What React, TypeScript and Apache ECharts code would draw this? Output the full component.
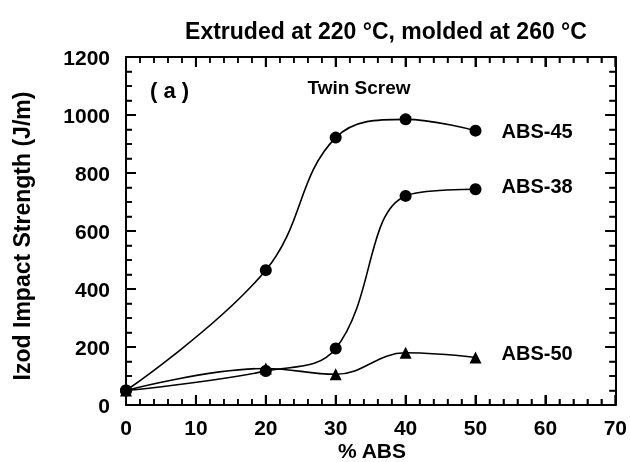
import React, { useEffect, useRef } from "react";
import * as echarts from "echarts";

const xValues = [0, 20, 30, 40, 50];
const abs45 = [50, 465, 922, 985, 946];
const abs38 = [50, 117, 195, 721, 744];
const abs50 = [50, 126, 106, 180, 164];
const seriesNames = ["ABS-45", "ABS-38", "ABS-50"];
const titleText = "Extruded at 220 °C, molded at 260 °C";
const yName = "Izod Impact Strength (J/m)";
const xName = "% ABS";

const X_MIN = 0, X_MAX = 70, X_MAJOR = 10, X_MINOR = 2;
const Y_MIN = 0, Y_MAX = 1200, Y_MAJOR = 200, Y_MINOR = 50;

const FONT = "'Liberation Sans', Arial, Helvetica, sans-serif";
const INK = "#000000";

function tickList(min: number, max: number, minor: number, major: number) {
  const out: number[][] = [];
  for (let v = min; v <= max + 1e-9; v += minor) {
    out.push([v, Math.abs(v / major - Math.round(v / major)) < 1e-9 ? 1 : 0]);
  }
  return out;
}

function buildData(values: number[], name: string, offsetY: number) {
  return values.map((v, i) => {
    const item: any = { value: [xValues[i], v] };
    if (i === values.length - 1) {
      item.label = {
        show: true,
        position: "right",
        distance: 20,
        offset: [0, offsetY],
        formatter: name,
        color: INK,
        fontFamily: FONT,
        fontWeight: "bold",
        fontSize: 20,
      };
    }
    return item;
  });
}

export default function App() {
  const ref = useRef<HTMLDivElement>(null);
  useEffect(() => {
    if (!ref.current) return;
    const chart = echarts.init(ref.current, undefined, { renderer: "svg" });
    const line = { show: true, onZero: false, lineStyle: { color: INK, width: 2 } };
    const tick = { show: true, inside: true, length: 10, lineStyle: { color: INK, width: 2 } };
    const split = { show: true, lineStyle: { color: "rgba(0,0,0,0)", width: 0 } };
    const labelStyle = {
      color: INK,
      fontFamily: FONT,
      fontWeight: "bold" as const,
      fontSize: 21,
      formatter: (v: number) => String(v),
    };
    const lineSeries = (name: string, data: any[], symbol: string) => ({
      type: "line",
      name,
      data,
      smooth: 0.4,
      symbol,
      symbolSize: 12,
      lineStyle: { color: INK, width: 1.6 },
      itemStyle: { color: INK },
      label: { show: false },
      z: 3,
    });
    const xTicks = tickList(X_MIN, X_MAX, X_MINOR, X_MAJOR).map((t) => [t[0], Y_MIN, t[1]]);
    const yTicks = tickList(Y_MIN, Y_MAX, Y_MINOR, Y_MAJOR).map((t) => [X_MIN, t[0], t[1]]);
    const tickStyle = (major: boolean) => ({ stroke: INK, lineWidth: major ? 2 : 1.5 });
    const xAxisBase = {
      type: "value",
      min: X_MIN,
      max: X_MAX,
      interval: X_MAJOR,
      axisLine: line,
      splitLine: split,
      axisTick: tick,
      minorTick: { show: true, splitNumber: 5, length: 6, lineStyle: { color: INK, width: 1.5 } },
    };
    const yAxisBase = {
      type: "value",
      min: Y_MIN,
      max: Y_MAX,
      interval: Y_MAJOR,
      axisLine: line,
      splitLine: split,
      axisTick: tick,
      minorTick: { show: true, splitNumber: 4, length: 6, lineStyle: { color: INK, width: 1.5 } },
    };
    chart.setOption({
      animation: false,
      title: {
        text: titleText,
        left: 381,
        top: 14,
        textAlign: "center",
        textStyle: { color: INK, fontFamily: FONT, fontWeight: "bold", fontSize: 23 },
      },
      grid: { left: 126, right: 14, top: 57, bottom: 57 },
      xAxis: [
        { ...xAxisBase, position: "bottom", axisLabel: { ...labelStyle, margin: 12 } },
        { ...xAxisBase, position: "top", axisLabel: { show: false } },
      ],
      yAxis: [
        { ...yAxisBase, position: "left", axisLabel: { ...labelStyle, margin: 16 } },
        { ...yAxisBase, position: "right", axisLabel: { show: false } },
      ],
      graphic: [
        {
          type: "text",
          x: 22,
          y: 236,
          rotation: Math.PI / 2,
          style: {
            text: yName,
            fill: INK,
            font: `bold 23px ${FONT}`,
            align: "center",
            verticalAlign: "middle",
          },
        },
        {
          type: "text",
          x: 372,
          y: 450,
          style: {
            text: xName,
            fill: INK,
            font: `bold 21px ${FONT}`,
            align: "center",
            verticalAlign: "middle",
          },
        },
        {
          type: "text",
          x: 150,
          y: 90,
          style: {
            text: "( a )",
            fill: INK,
            font: `bold 22px ${FONT}`,
            align: "left",
            verticalAlign: "middle",
          },
        },
        {
          type: "text",
          x: 359,
          y: 87,
          style: {
            text: "Twin Screw",
            fill: INK,
            font: `bold 19px ${FONT}`,
            align: "center",
            verticalAlign: "middle",
          },
        },
      ],
      series: [
        {
          type: "custom",
          clip: false,
          data: xTicks,
          renderItem: (params: any, api: any) => {
            const x = api.coord([api.value(0), Y_MIN])[0];
            const top = api.coord([X_MIN, Y_MAX])[1];
            const bottom = api.coord([X_MIN, Y_MIN])[1];
            const major = api.value(2) === 1;
            const len = major ? 10 : 6;
            return {
              type: "group",
              children: [
                { type: "line", shape: { x1: x, y1: bottom, x2: x, y2: bottom - len }, style: tickStyle(major) },
                { type: "line", shape: { x1: x, y1: top, x2: x, y2: top + len }, style: tickStyle(major) },
              ],
            };
          },
        },
        {
          type: "custom",
          clip: false,
          data: yTicks,
          renderItem: (params: any, api: any) => {
            const y = api.coord([X_MIN, api.value(1)])[1];
            const left = api.coord([X_MIN, Y_MIN])[0];
            const right = api.coord([X_MAX, Y_MIN])[0];
            const major = api.value(2) === 1;
            const len = major ? 10 : 6;
            return {
              type: "group",
              children: [
                { type: "line", shape: { x1: left, y1: y, x2: left + len, y2: y }, style: tickStyle(major) },
                { type: "line", shape: { x1: right, y1: y, x2: right - len, y2: y }, style: tickStyle(major) },
              ],
            };
          },
        },
        lineSeries(seriesNames[0], buildData(abs45, seriesNames[0], 0), "circle"),
        lineSeries(seriesNames[1], buildData(abs38, seriesNames[1], -3), "circle"),
        lineSeries(seriesNames[2], buildData(abs50, seriesNames[2], -4), "triangle"),
      ],
    });
    return () => chart.dispose();
  }, []);
  return <div ref={ref} style={{ position: "fixed", left: 0, top: 0, width: 630, height: 462 }} />;
}
